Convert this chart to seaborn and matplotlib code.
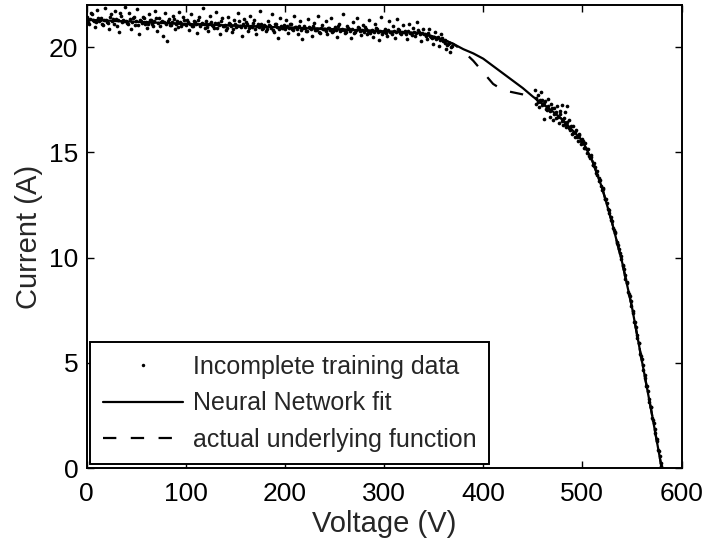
import numpy as np
import pandas as pd
import matplotlib
matplotlib.use("Agg")
import matplotlib.pyplot as plt
import seaborn as sns
from matplotlib.lines import Line2D

# ---- training data (flat region, odd voltages) ----
v_flat = [1, 3, 5, 7, 9, 11, 13, 15, 17, 19,
          21, 23, 25, 27, 29, 31, 33, 35, 37, 39,
          41, 43, 45, 47, 49, 51, 53, 55, 57, 59,
          61, 63, 65, 67, 69, 71, 73, 75, 77, 79,
          81, 83, 85, 87, 89, 91, 93, 95, 97, 99,
          101, 103, 105, 107, 109, 111, 113, 115, 117, 119,
          121, 123, 125, 127, 129, 131, 133, 135, 137, 139,
          141, 143, 145, 147, 149, 151, 153, 155, 157, 159,
          161, 163, 165, 167, 169, 171, 173, 175, 177, 179,
          181, 183, 185, 187, 189, 191, 193, 195, 197, 199,
          201, 203, 205, 207, 209, 211, 213, 215, 217, 219,
          221, 223, 225, 227, 229, 231, 233, 235, 237, 239,
          241, 243, 245, 247, 249, 251, 253, 255, 257, 259,
          261, 263, 265, 267, 269, 271, 273, 275, 277, 279,
          281, 283, 285, 287, 289, 291, 293, 295, 297, 299,
          301, 303, 305, 307, 309, 311, 313, 315, 317, 319,
          321, 323, 325, 327, 329, 331, 333, 335, 337, 339,
          341, 343, 345, 347, 349, 351, 353, 355, 357, 359,
          361, 363, 365, 367, 369]
i_flat = [21.45, 21.10, 21.62, 21.30, 20.95, 21.75, 21.22, 21.40, 21.05, 21.88,
          21.20, 20.88, 21.55, 21.35, 21.70, 21.02, 20.72, 21.48, 21.28, 21.90,
          21.15, 21.62, 20.85, 21.38, 21.05, 21.80, 20.60, 21.25, 21.45, 21.10,
          20.92, 21.55, 21.30, 21.02, 21.72, 20.78, 21.40, 21.18, 20.55, 21.60,
          20.30, 21.35, 21.05, 21.50, 20.85, 21.25, 21.68, 20.98, 21.42, 21.12,
          21.30, 20.80, 21.58, 21.00, 21.20, 20.65, 21.45, 21.10, 21.85, 20.92,
          21.25, 20.75, 21.50, 21.05, 20.90, 21.65, 21.15, 20.60, 21.38, 21.00,
          20.82, 21.45, 21.10, 20.70, 21.28, 20.95, 21.60, 21.02, 20.55, 21.35,
          21.18, 20.78, 21.50, 20.95, 21.30, 20.62, 21.10, 21.72, 20.88, 21.05,
          20.75, 21.25, 20.98, 21.55, 20.70, 21.12, 20.45, 21.38, 20.92, 21.05,
          21.30, 20.68, 21.10, 20.85, 21.48, 20.95, 20.60, 21.22, 20.40, 21.02,
          20.75, 21.35, 20.92, 20.55, 21.15, 20.80, 21.50, 20.65, 21.05, 20.88,
          21.25, 20.62, 20.90, 21.40, 20.75, 20.95, 20.50, 21.12, 20.82, 21.55,
          20.65, 21.02, 20.85, 20.45, 21.20, 20.72, 21.38, 20.90, 20.58, 21.05,
          20.95, 20.60, 21.30, 20.78, 20.50, 21.12, 20.85, 20.35, 21.45, 20.70,
          20.88, 20.55, 21.22, 20.72, 20.98, 20.45, 21.35, 20.80, 20.62, 21.05,
          20.75, 20.40, 21.10, 20.65, 20.90, 20.52, 21.18, 20.70, 20.30, 20.85,
          20.62, 20.38, 20.85, 20.50, 20.15, 20.70, 20.42, 20.05, 20.60, 20.30,
          20.35, 19.90, 20.15, 19.75, 20.05]

# ---- training data (flat region, even voltages) ----
v_flat_b = [0, 2, 4, 6, 8, 10, 12, 14, 16, 18,
            20, 22, 24, 26, 28, 30, 32, 34, 36, 38,
            40, 42, 44, 46, 48, 50, 52, 54, 56, 58,
            60, 62, 64, 66, 68, 70, 72, 74, 76, 78,
            80, 82, 84, 86, 88, 90, 92, 94, 96, 98,
            100, 102, 104, 106, 108, 110, 112, 114, 116, 118,
            120, 122, 124, 126, 128, 130, 132, 134, 136, 138,
            140, 142, 144, 146, 148, 150, 152, 154, 156, 158,
            160, 162, 164, 166, 168, 170, 172, 174, 176, 178,
            180, 182, 184, 186, 188, 190, 192, 194, 196, 198,
            200, 202, 204, 206, 208, 210, 212, 214, 216, 218,
            220, 222, 224, 226, 228, 230, 232, 234, 236, 238,
            240, 242, 244, 246, 248, 250, 252, 254, 256, 258,
            260, 262, 264, 266, 268, 270, 272, 274, 276, 278,
            280, 282, 284, 286, 288, 290, 292, 294, 296, 298,
            300, 302, 304, 306, 308, 310, 312, 314, 316, 318,
            320, 322, 324, 326, 328, 330, 332, 334, 336, 338,
            340, 342, 344, 346, 348, 350, 352, 354, 356, 358,
            360, 362, 364, 366, 368]
i_flat_b = [21.35, 21.20, 21.32, 21.55, 21.25, 21.18, 21.40, 21.30, 21.12, 21.28,
            21.30, 21.15, 21.42, 21.22, 21.10, 21.35, 21.28, 21.60, 21.18, 21.25,
            21.25, 21.10, 21.32, 21.18, 21.45, 21.22, 21.05, 21.28, 21.15, 21.38,
            21.20, 21.08, 21.30, 21.12, 21.25, 21.40, 21.15, 21.02, 21.22, 21.18,
            21.10, 21.25, 21.05, 21.18, 21.35, 21.08, 20.95, 21.20, 21.12, 21.28,
            21.05, 21.18, 21.12, 20.98, 21.22, 21.08, 21.30, 21.02, 21.15, 21.10,
            21.12, 20.95, 21.08, 21.20, 21.00, 21.15, 20.92, 21.05, 21.25, 21.02,
            21.05, 20.92, 21.15, 21.00, 20.88, 21.10, 21.02, 21.22, 20.95, 21.08,
            20.95, 21.08, 20.90, 21.02, 21.15, 20.85, 21.00, 20.96, 21.12, 20.92,
            20.98, 20.85, 21.05, 20.92, 20.80, 21.10, 20.95, 20.88, 21.02, 20.90,
            20.85, 20.98, 20.92, 21.08, 20.80, 20.95, 20.88, 21.00, 20.82, 20.92,
            20.90, 20.78, 20.95, 20.85, 21.02, 20.80, 20.88, 20.72, 20.92, 20.85,
            20.85, 20.75, 20.92, 20.80, 20.70, 20.88, 20.82, 20.98, 20.76, 20.84,
            20.82, 20.72, 20.90, 20.78, 20.85, 20.68, 20.80, 20.95, 20.75, 20.82,
            20.72, 20.85, 20.78, 20.65, 20.80, 20.74, 20.90, 20.70, 20.76, 20.62,
            20.75, 20.68, 20.80, 20.72, 20.62, 20.78, 20.70, 20.85, 20.66, 20.74,
            20.70, 20.62, 20.75, 20.68, 20.58, 20.72, 20.65, 20.80, 20.60, 20.68,
            20.60, 20.52, 20.65, 20.55, 20.45, 20.50, 20.40, 20.48, 20.35, 20.42,
            20.28, 20.20, 20.12, 20.18, 20.02]

# ---- training data (knee region) ----
v_knee = [452, 453.5, 455, 456.5, 458, 459.5, 461, 462.5, 464, 465.5,
          467, 468.5, 470, 471.5, 473, 474.5, 476, 477.5, 479, 480.5,
          482, 483.5, 485, 486.5, 488, 489.5, 491, 492.5, 494, 495.5,
          497, 498.5, 500, 501.5, 503, 504.5, 506, 507.5, 509, 510.5,
          512, 513.5, 515, 516.5, 518, 519.5, 521, 522.5, 524, 525.5,
          527, 528.5, 530, 531.5, 533, 534.5, 536, 537.5, 539, 540.5,
          542, 543.5, 545, 546.5, 548, 549.5, 551, 552.5, 554, 555.5,
          557, 558.5, 560, 561.5, 563, 564.5, 566, 567.5, 569, 570.5,
          572, 573.5, 575, 576.5, 578, 579.5]
i_knee = [17.95, 17.30, 17.70, 17.15, 17.85, 17.50, 16.60, 17.45, 17.00, 17.55,
          16.70, 17.30, 16.55, 17.10, 16.65, 17.20, 16.40, 16.95, 17.25, 16.30,
          16.90, 16.20, 17.20, 16.55, 16.05, 15.85, 16.25, 15.75, 16.05, 15.55,
          15.85, 15.40, 15.62, 15.20, 15.45, 14.95, 15.18, 14.75, 14.88, 14.40,
          14.50, 14.00, 14.10, 13.65, 13.70, 13.20, 13.30, 12.80, 12.78, 12.30,
          12.25, 11.80, 11.75, 11.30, 11.20, 10.75, 10.60, 10.20, 10.08, 9.62,
          9.45, 8.98, 8.80, 8.35, 8.15, 7.70, 7.48, 6.95, 6.70, 6.18,
          5.95, 5.42, 5.18, 4.65, 4.42, 3.92, 3.68, 3.15, 2.92, 2.40,
          2.15, 1.68, 1.38, 0.85, 0.55, 0.10]

v_knee_b = [453, 455, 457, 459, 461, 463, 465, 467, 469, 471,
            473, 475, 477, 479, 481, 483, 485, 487, 489, 491,
            493, 495, 497, 499, 501, 503, 505, 507, 509, 511,
            513, 515, 517, 519, 521, 523, 525, 527, 529, 531,
            533, 535, 537, 539, 541, 543, 545, 547, 549, 551,
            553, 555, 557, 559, 561, 563, 565, 567, 569, 571,
            573, 575, 577, 579]
i_knee_b = [17.60, 17.38, 17.50, 17.25, 17.35, 17.05, 17.22, 16.98, 17.10, 16.80,
            16.92, 16.70, 16.80, 16.50, 16.62, 16.35, 16.45, 16.15, 16.25, 15.92,
            15.98, 15.72, 15.80, 15.52, 15.55, 15.20, 15.15, 14.82, 14.78, 14.40,
            14.28, 13.90, 13.78, 13.38, 13.25, 12.80, 12.60, 12.12, 11.95, 11.40,
            11.18, 10.68, 10.42, 9.95, 9.66, 9.15, 8.82, 8.28, 7.95, 7.35,
            6.95, 6.33, 5.92, 5.30, 4.90, 4.30, 3.90, 3.30, 2.90, 2.30,
            1.86, 1.26, 0.82, 0.22]

# ---- neural network fit ----
nn_v = [0, 50, 100, 150, 200, 250, 300, 335, 350, 360, 370, 380, 390, 400,
        410, 420, 430, 440, 450, 460, 470, 480, 490, 500, 510, 520, 530,
        540, 550, 560, 570, 580]
nn_i = [21.30, 21.20, 21.10, 21.02, 20.93, 20.85, 20.75, 20.67, 20.50, 20.35,
        20.15, 19.90, 19.70, 19.45, 19.10, 18.75, 18.40, 18.05, 17.65, 17.30,
        16.95, 16.55, 16.05, 15.55, 14.60, 13.30, 11.65, 9.80, 7.65, 5.10,
        2.60, 0.00]

# ---- actual underlying function ----
act_v = [0, 50, 100, 150, 200, 250, 300, 335, 350, 360, 370, 380, 390, 400,
         410, 420, 430, 440, 450, 460, 470, 480, 490, 500, 510, 520, 530,
         540, 550, 560, 570, 580]
act_i = [21.30, 21.20, 21.10, 21.02, 20.93, 20.85, 20.75, 20.67, 20.50, 20.35,
         20.15, 19.80, 19.35, 18.80, 18.25, 17.95, 17.85, 17.75, 17.60, 17.30,
         16.95, 16.55, 16.05, 15.55, 14.60, 13.30, 11.65, 9.80, 7.65, 5.10,
         2.60, 0.00]

x_ticks = [0, 100, 200, 300, 400, 500, 600]
y_ticks = [0, 5, 10, 15, 20]

sns.set_theme(style="ticks")
plt.rcParams['font.family'] = ['Liberation Sans', 'DejaVu Sans']
plt.rcParams.update({
    'xtick.direction': 'in', 'ytick.direction': 'in',
    'xtick.top': True, 'ytick.right': True,
    'xtick.major.size': 5, 'ytick.major.size': 5,
    'xtick.major.width': 1.0, 'ytick.major.width': 1.0,
    'axes.linewidth': 1.4, 'axes.edgecolor': 'black',
    'xtick.color': 'black', 'ytick.color': 'black',
})

FS = 19        # tick labels
FS_LAB = 21    # axis labels
FS_LEG = 18    # legend
DASH = (6, 6.5)

fig = plt.figure(figsize=(7.05, 5.42), dpi=100)
ax = fig.add_axes([0.1227, 0.1365, 0.9667 - 0.1227, 0.9908 - 0.1365])

train = pd.DataFrame({'V': v_flat + v_flat_b + v_knee + v_knee_b,
                      'I': i_flat + i_flat_b + i_knee + i_knee_b})
nn = pd.DataFrame({'V': nn_v, 'I': nn_i})
act = pd.DataFrame({'V': act_v, 'I': act_i})

sns.scatterplot(data=train, x='V', y='I', ax=ax, s=7, color='black',
                linewidth=0, legend=False, zorder=3)
sns.lineplot(data=nn, x='V', y='I', ax=ax, color='black', linewidth=1.6,
             sort=False, estimator=None, zorder=4)
sns.lineplot(data=act, x='V', y='I', ax=ax, color='black', linewidth=1.6,
             sort=False, estimator=None, zorder=4)
ax.lines[-1].set_dashes(DASH)

ax.set_xlim(0, 600)
ax.set_ylim(0, 22)
ax.set_xticks(x_ticks)
ax.set_yticks(y_ticks)
ax.tick_params(axis='x', labelsize=FS, pad=10)
ax.tick_params(axis='y', labelsize=FS, pad=6)
ax.set_xlabel('Voltage (V)', fontsize=FS_LAB, labelpad=3)
ax.set_ylabel('Current (A)', fontsize=FS_LAB, labelpad=4)

handles = [
    Line2D([], [], linestyle='none', marker='o', markersize=2.5,
           markerfacecolor='black', markeredgewidth=0, color='black'),
    Line2D([], [], color='black', linewidth=1.6),
    Line2D([], [], color='black', linewidth=1.6, dashes=DASH),
]
labels = ['Incomplete training data', 'Neural Network fit',
          'actual underlying function']
leg = ax.legend(handles, labels, loc='lower left', fontsize=FS_LEG,
                handlelength=3.2, handletextpad=0.4, labelspacing=0.5,
                borderaxespad=0.15, borderpad=0.5, fancybox=False,
                framealpha=1, edgecolor='black')
leg.get_frame().set_linewidth(1.4)

fig.savefig('out.png', dpi=100)
